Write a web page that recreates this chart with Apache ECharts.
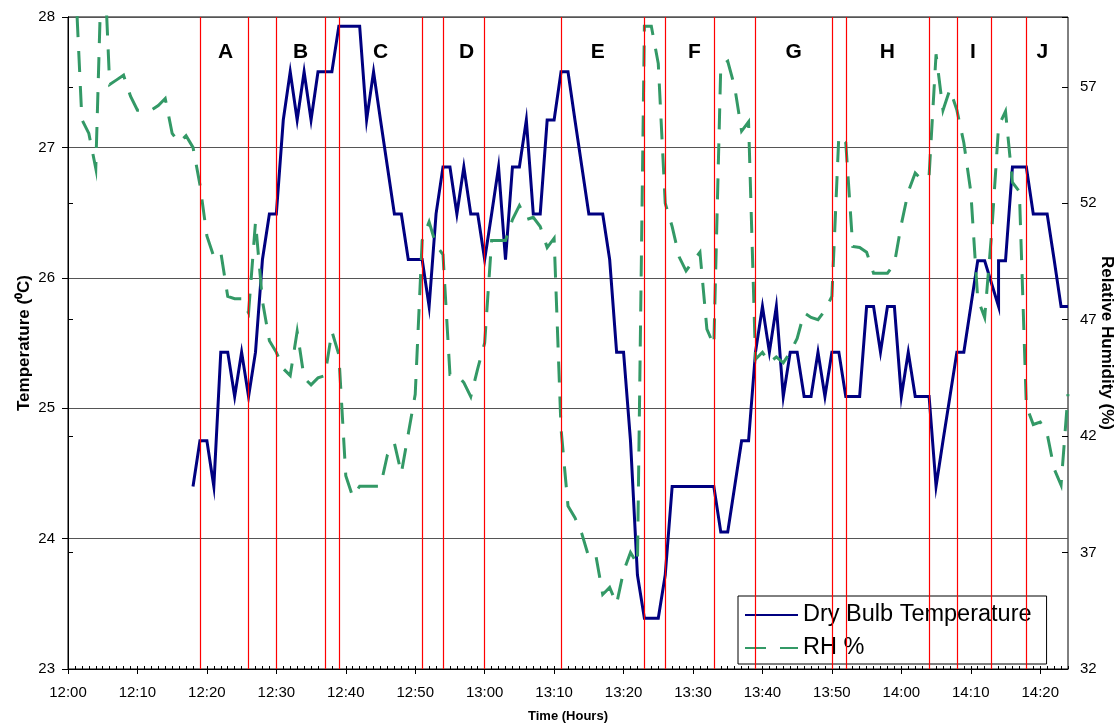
<!DOCTYPE html>
<html>
<head>
<meta charset="utf-8">
<script src="https://cdn.jsdelivr.net/npm/echarts@6/dist/echarts.min.js"></script>
<style>html,body{margin:0;padding:0;background:#fff}#c{width:1118px;height:726px}</style>
</head>
<body>
<div id="c"></div>
<script>
// Time in minutes after 12:00
const tempMinutes = [18,19,20,21,22,23,24,25,26,27,28,29,30,31,32,33,34,35,36,37,38,39,40,41,42,43,44,45,46,47,48,49,50,51,52,53,54,55,56,57,58,59,60,61,62,63,64,65,66,67,68,69,70,71,72,73,74,75,76,77,78,79,80,81,82,83,84,85,86,87,88,89,90,91,92,93,94,95,96,97,98,99,100,101,102,103,104,105,106,107,108,109,110,111,112,113,114,115,116,117,118,119,120,121,122,123,124,125,126,127,128,129,130,131,132,134,134,135,136,137,138,139,140,141,142,143,144];
const tempValues = [24.40,24.75,24.75,24.40,25.43,25.43,25.09,25.43,25.09,25.43,26.14,26.49,26.49,27.21,27.58,27.21,27.58,27.21,27.58,27.58,27.58,27.93,27.93,27.93,27.93,27.21,27.58,27.21,26.85,26.49,26.49,26.14,26.14,26.14,25.78,26.49,26.85,26.85,26.49,26.85,26.49,26.49,26.14,26.49,26.85,26.14,26.85,26.85,27.21,26.49,26.49,27.21,27.21,27.58,27.58,27.21,26.85,26.49,26.49,26.49,26.14,25.43,25.43,24.75,23.72,23.39,23.39,23.39,23.72,24.40,24.40,24.40,24.40,24.40,24.40,24.40,24.05,24.05,24.40,24.75,24.75,25.43,25.78,25.43,25.78,25.09,25.43,25.43,25.09,25.09,25.43,25.09,25.43,25.43,25.09,25.09,25.09,25.78,25.78,25.43,25.78,25.78,25.09,25.43,25.09,25.09,25.09,24.40,24.75,25.09,25.43,25.43,25.78,26.13,26.13,25.78,26.13,26.13,26.85,26.85,26.85,26.49,26.49,26.49,26.14,25.78,25.78];

// RH sampled each minute from 12:00 (minute 0) to 14:24 (minute 144)
const rhStartMinute = 0;
const rhValues = [63.0,62.0,55.6,55.0,53.5,64.0,57.1,57.3,57.5,56.6,
  56.0,56.0,56.0,56.2,56.5,55.0,54.6,54.9,54.4,52.8,
  50.6,49.7,49.9,48.0,47.9,47.9,47.3,51.2,47.8,46.1,
  45.6,44.9,44.6,46.5,44.5,44.2,44.5,44.6,46.5,45.5,
  40.3,39.4,39.85,39.85,39.85,39.85,41.2,41.7,40.4,42.1,
  43.8,50.4,51.2,50.2,49.8,44.65,44.65,44.3,43.7,44.9,
  46.0,50.4,50.4,50.4,51.3,51.9,51.3,51.4,51.0,50.1,
  50.5,42.3,39.0,38.5,37.8,36.8,36.9,35.2,35.5,34.8,
  36.2,37.0,36.5,59.6,59.6,58.0,52.0,51.0,49.7,49.1,
  49.5,49.9,46.6,45.9,57.9,58.1,57.0,55.1,55.5,45.3,
  45.6,45.15,45.4,45.15,45.6,46.2,47.3,47.1,47.0,47.4,
  48.0,54.9,54.6,50.15,50.1,49.9,49.0,49.0,49.0,49.4,
  51.1,52.5,53.3,53.0,53.2,58.4,56.0,56.9,56.0,54.6,
  52.5,47.9,47.1,50.7,55.3,55.95,52.9,52.5,43.3,42.5,
  42.6,42.1,40.6,39.9,43.8];

const eventMinutes = [19,26,30,37,39,51,54,60,71,83,86,93,99,110,112,124,128,133,138];
const periodLabels = ['A','B','C','D','E','F','G','H','I','J'];
const periodMinutes = [22.7,33.5,45,57.4,76.3,90.2,104.5,118,130.3,140.3];
const periodLevel = 27.73;

const FONT = 'Liberation Sans, Arial, sans-serif';
const RED = '#ff0000';
function fmtTime(v){
  const h = 12 + Math.floor(v/60);
  const m = Math.round(v % 60);
  return h + ':' + (m < 10 ? '0' + m : m);
}

const chart = echarts.init(document.getElementById('c'), null, {renderer:'canvas'});
chart.setOption({
  animation: false,
  backgroundColor: '#fff',
  textStyle: {fontFamily: FONT},
  grid: {left: 68, right: 50, top: 17, bottom: 57, outerBoundsMode: 'none', containLabel: false,
         show: true, borderColor: '#000', borderWidth: 1, backgroundColor: 'transparent'},
  legend: {
    data: ['Dry Bulb Temperature', 'RH %'],
    orient: 'vertical', left: 738, top: 596,
    padding: [7, 15, 4, 6],
    itemWidth: 53, itemHeight: 14, itemGap: 9,
    borderColor: '#000', borderWidth: 1, backgroundColor: '#fff',
    itemStyle: {opacity: 0},
    textStyle: {fontSize: 23.5, color: '#000', fontFamily: FONT}
  },
  xAxis: [{
    type: 'value', min: 0, max: 144, interval: 10, position: 'bottom',
    axisLine: {show: true, onZero: false, lineStyle: {color: '#000', width: 1}},
    axisTick: {show: true, length: 5, lineStyle: {color: '#000'}},
    axisLabel: {formatter: fmtTime, fontSize: 15, color: '#000', margin: 16, showMaxLabel: false, fontFamily: FONT},
    splitLine: {show: false},
    name: 'Time (Hours)', nameLocation: 'middle', nameGap: 41, nameMoveOverlap: false,
    nameTextStyle: {fontSize: 13, fontWeight: 'bold', color: '#000', fontFamily: FONT}
  }, {
    type: 'value', min: 0, max: 144, interval: 1, position: 'bottom',
    axisLine: {show: false, onZero: false},
    axisTick: {show: true, inside: true, length: 3, lineStyle: {color: '#000'}},
    axisLabel: {show: false},
    splitLine: {show: false}
  }],
  yAxis: [{
    type: 'value', min: 23, max: 28, interval: 1, position: 'left',
    axisLine: {show: true, lineStyle: {color: '#000', width: 1}},
    axisTick: {show: true, length: 6, lineStyle: {color: '#000'}},
    axisLabel: {fontSize: 15, color: '#000', margin: 13, fontFamily: FONT},
    splitLine: {show: true, lineStyle: {color: '#555', width: 1}},
    name: 'Temperature (\u2070C)', nameLocation: 'middle', nameGap: 35, nameMoveOverlap: false,
    nameTextStyle: {fontSize: 17, fontWeight: 'bold', color: '#000', fontFamily: FONT}
  }, {
    type: 'value', min: 32, max: 60, interval: 5, position: 'right',
    axisLine: {show: true, lineStyle: {color: '#000', width: 1}},
    axisTick: {show: true, length: 5, lineStyle: {color: '#000'}},
    axisLabel: {fontSize: 15, color: '#000', margin: 12, showMaxLabel: false, fontFamily: FONT},
    splitLine: {show: false},
    name: 'Relative Humidity (%)', nameLocation: 'middle', nameGap: 30, nameRotate: -90, nameMoveOverlap: false,
    nameTextStyle: {fontSize: 17, fontWeight: 'bold', color: '#000', fontFamily: FONT}
  }, {
    type: 'value', min: 32, max: 60, interval: 5, position: 'right',
    axisLine: {show: false},
    axisTick: {show: true, inside: true, length: 6, lineStyle: {color: '#000'}},
    axisLabel: {show: false},
    splitLine: {show: false}
  }],
  series: [{
    name: 'events', type: 'line', data: [], z: 1, silent: true,
    xAxisIndex: 0, yAxisIndex: 0, color: RED,
    itemStyle: {color: RED}, lineStyle: {color: RED},
    markLine: {
      silent: true, symbol: ['none', 'none'], label: {show: false},
      lineStyle: {color: RED, width: 1.2, type: 'solid', opacity: 1},
      emphasis: {disabled: true},
      data: eventMinutes.map(m => ({xAxis: m}))
    }
  }, {
    name: 'Dry Bulb Temperature', type: 'line', xAxisIndex: 0, yAxisIndex: 0,
    symbol: 'none', z: 3,
    lineStyle: {color: '#000080', width: 3, join: 'miter'},
    itemStyle: {color: '#000080'},
    data: tempMinutes.map((m, i) => [m, tempValues[i]])
  }, {
    name: 'RH %', type: 'line', xAxisIndex: 0, yAxisIndex: 1,
    symbol: 'none', z: 4,
    lineStyle: {color: '#339966', width: 3, type: [21, 14], cap: 'butt', join: 'miter'},
    itemStyle: {color: '#339966'},
    data: rhValues.map((v, i) => [rhStartMinute + i, v])
  }, {
    name: 'periods', type: 'scatter', xAxisIndex: 0, yAxisIndex: 0,
    symbolSize: 1, itemStyle: {color: 'rgba(0,0,0,0)'}, z: 5, silent: true,
    label: {show: true, position: 'inside', formatter: '{b}', fontSize: 21, fontWeight: 'bold',
            color: '#000', opacity: 1, textBorderWidth: 0, textBorderColor: 'transparent', fontFamily: FONT},
    data: periodMinutes.map((m, i) => ({name: periodLabels[i], value: [m, periodLevel]}))
  }]
});
</script>
</body>
</html>
